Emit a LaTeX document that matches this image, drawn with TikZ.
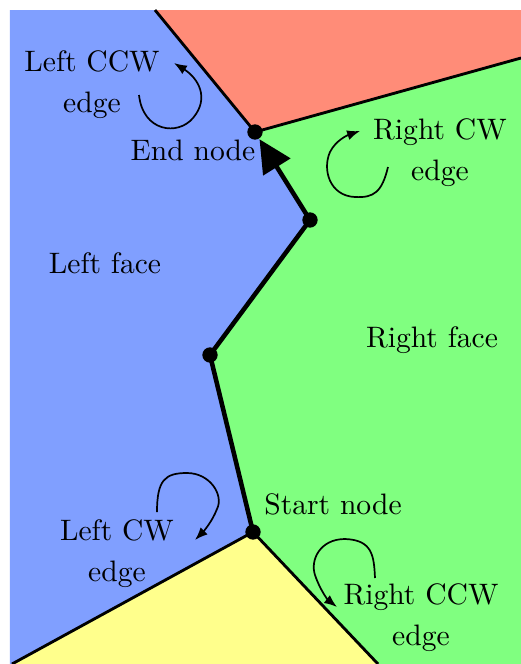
\documentclass[tikz,border=0pt]{standalone}
\usepackage{amsmath}
\usepackage{amssymb}
\usetikzlibrary{arrows.meta}

\definecolor{leftblue}{RGB}{128,159,255}
\definecolor{rightgreen}{RGB}{128,255,128}
\definecolor{topred}{RGB}{255,140,120}
\definecolor{bottomyellow}{RGB}{255,255,140}

\begin{document}
\begin{tikzpicture}[x=0.3515pt,y=-0.3515pt,
  border/.style={line width=1pt},
  halfedge/.style={ultra thick,shorten >=3pt,-{Triangle[length=11.5pt,width=11pt]}},
  curl/.style={semithick,-{Latex[length=4.5pt,width=3.5pt]}},
  lbl/.style={align=center,inner sep=0pt,font=\fontsize{10.4pt}{12.5pt}\selectfont}]
\useasboundingbox (0,0) rectangle (521,664);

\coordinate (end) at (255,132);
\coordinate (mid1) at (310,220);
\coordinate (mid2) at (210,355);
\coordinate (start) at (253,532);
\coordinate (topcut) at (155,10);
\coordinate (rightcut) at (521,58);
\coordinate (leftcut) at (12,664);
\coordinate (bottomcut) at (378,664);

\fill[leftblue] (10,10) -- (topcut) -- (end) -- (mid1) -- (mid2) -- (start) -- (leftcut) -- (10,664) -- cycle;
\fill[topred] (topcut) -- (521,10) -- (rightcut) -- (end) -- cycle;
\fill[rightgreen] (end) -- (rightcut) -- (521,664) -- (bottomcut) -- (start) -- (mid2) -- (mid1) -- cycle;
\fill[bottomyellow] (start) -- (bottomcut) -- (leftcut) -- cycle;

\draw[border] (topcut) -- (end) -- (rightcut);
\draw[border] (leftcut) -- (start) -- (bottomcut);

\draw[halfedge] (start) -- (mid2) -- (mid1) -- (end);
\foreach \v in {start,mid2,mid1,end}
  \fill (\v) circle (2.7pt);

\node[lbl] (endlbl) at (193,150) {End node};
\node[lbl] (startlbl) at (333,504) {Start node};
\node[lbl] (leftface) at (105,263) {Left face};
\node[lbl] (rightface) at (432,340) {Right face};
\node[lbl] (lccw) at (92,85) {Left CCW\\[1.9pt]edge};
\node[lbl] (rcw) at (440,153) {Right CW\\[1.9pt]edge};
\node[lbl] (lcw) at (117,554) {Left CW\\[1.9pt]edge};
\node[lbl] (rccw) at (421,618) {Right CCW\\[1.9pt]edge};

\draw[curl] (139,95) .. controls (143,132) and (178,136) .. (193,118) .. controls (210,98) and (198,78) .. (174,63);
\draw[curl] (388,167) .. controls (382,192) and (374,198) .. (355,197) .. controls (330,196) and (322,170) .. (330,152) .. controls (336,140) and (348,135) .. (360,131);
\draw[curl] (157,512) .. controls (157,480) and (165,473) .. (187,473) .. controls (210,473) and (224,495) .. (217,509) .. controls (212,522) and (203,532) .. (195,540);
\draw[curl] (375,578) .. controls (374,555) and (372,540) .. (345,539) .. controls (320,539) and (310,560) .. (315,575) .. controls (320,590) and (328,600) .. (337,607);

\end{tikzpicture}
\end{document}
